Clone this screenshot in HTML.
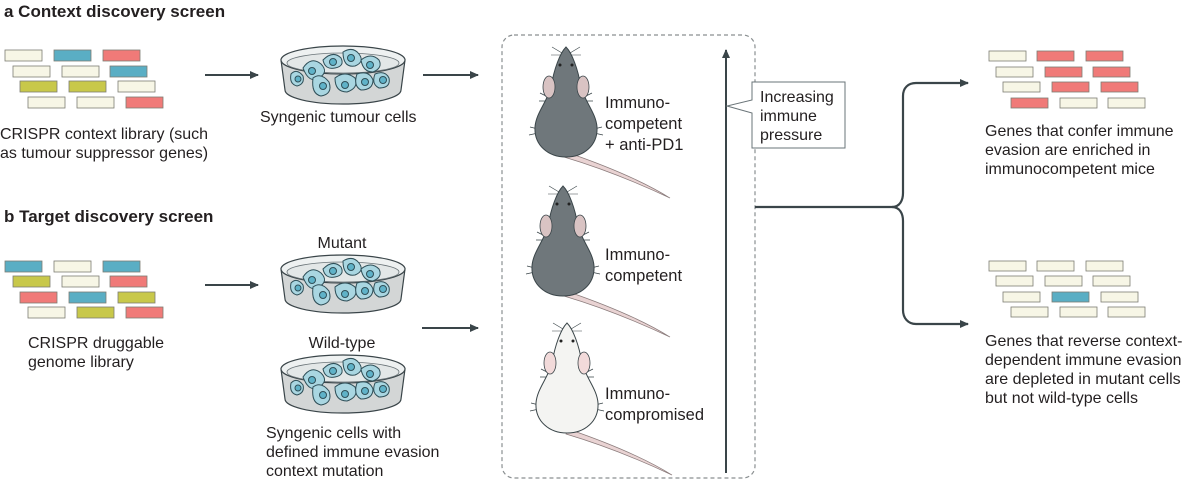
<!DOCTYPE html>
<html><head><meta charset="utf-8"><style>
html,body{margin:0;padding:0;background:#fff}
svg{display:block}
text{font-family:"Liberation Sans",sans-serif;fill:#231f20}
</style></head><body>
<svg width="1200" height="484" viewBox="0 0 1200 484" xmlns="http://www.w3.org/2000/svg">
<defs>
<marker id="ah" markerWidth="10" markerHeight="10" refX="8" refY="5" orient="auto" markerUnits="userSpaceOnUse">
<path d="M0,1 L9,5 L0,9 Z" fill="#3a4549"/></marker>
<g id="dish">
<path d="M-62,0 L-58,30 A58,14 0 0 0 58,30 L62,0 Z" fill="#d3d6d6" stroke="#3a4549" stroke-width="1.2"/>
<ellipse cx="0" cy="0" rx="62" ry="14" fill="#eef1f1" stroke="#3a4549" stroke-width="1.2"/>
<ellipse cx="0" cy="3" rx="56" ry="10" fill="#e3e7e7" stroke="#6a7478" stroke-width="0.8"/>
<g fill="#a9d6e1" stroke="#2f4f58" stroke-width="1">
<path d="M-40,8 q8,-12 18,-4 q8,8 -2,14 q-10,6 -16,-10z"/><circle cx="-31" cy="11" r="3.5" fill="#5fb2c8"/>
<path d="M-20,0 q10,-10 18,-2 q4,8 -6,10 q-10,2 -12,-8z"/><circle cx="-10" cy="2" r="3.5" fill="#5fb2c8"/>
<path d="M0,-8 q10,-6 16,2 q6,8 -4,12 q-12,2 -12,-14z"/><circle cx="8" cy="-2" r="3.5" fill="#5fb2c8"/>
<path d="M18,0 q10,-8 18,0 q4,8 -6,12 q-10,0 -12,-12z"/><circle cx="27" cy="5" r="3.5" fill="#5fb2c8"/>
<path d="M-30,18 q8,-6 16,4 q4,12 -8,14 q-10,-2 -8,-18z"/><circle cx="-20" cy="26" r="3.5" fill="#5fb2c8"/>
<path d="M-8,18 q10,-8 20,0 q4,10 -8,14 q-12,0 -12,-14z"/><circle cx="2" cy="25" r="3.5" fill="#5fb2c8"/>
<path d="M14,14 q12,-4 16,6 q0,10 -12,10 q-8,-4 -4,-16z"/><circle cx="22" cy="22" r="3.5" fill="#5fb2c8"/>
<path d="M32,14 q10,-4 14,4 q2,10 -10,10 q-8,-4 -4,-14z"/><circle cx="40" cy="20" r="3.5" fill="#5fb2c8"/>
<path d="M-52,14 q6,-6 12,2 q2,8 -6,10 q-8,-2 -6,-12z"/><circle cx="-45" cy="19" r="3" fill="#5fb2c8"/>
</g>
</g>
<g id="tail"><path d="M0,0 C35,12 75,28 104,46 C72,31 35,16 -2,5 Z" fill="#e9d3d3" stroke="#8a7b7b" stroke-width="0.7"/></g>
<g id="mouseShape">
<g stroke="#3a4549" stroke-width="0.8">
<path d="M-18,50 l-8,-4 M-18,54 l-9,0 M18,50 l8,-4 M18,54 l9,0" fill="none"/>
<path d="M-28,82 l-8,-2 M-28,86 l-9,2 M28,82 l8,-2 M28,86 l9,2" fill="none"/>
<path d="M-4,6 l-10,-6 M-4,8 l-11,0 M4,6 l10,-6 M4,8 l11,0" fill="none" stroke-width="0.6"/>
</g>
<path d="M0,0 C-6,6 -12,22 -15,40 C-19,55 -30,66 -31,80 C-32,98 -18,110 0,110 C18,110 32,98 31,80 C30,66 19,55 15,40 C12,22 6,6 0,0Z"/>
</g>
</defs>

<text x="4" y="17" font-size="17" font-weight="bold">a  Context discovery screen</text>
<text x="4" y="222" font-size="17" font-weight="bold">b  Target discovery screen</text>

<g stroke="#7d7d74" stroke-width="0.8">
<rect x="5" y="50" width="37" height="11" fill="#f7f6e6"/><rect x="54" y="50" width="37" height="11" fill="#5aaec4"/><rect x="103" y="50" width="37" height="11" fill="#f07a78"/>
<rect x="13" y="66" width="37" height="11" fill="#f7f6e6"/><rect x="62" y="66" width="37" height="11" fill="#f7f6e6"/><rect x="110" y="66" width="37" height="11" fill="#5aaec4"/>
<rect x="20" y="81" width="37" height="11" fill="#c8c84a"/><rect x="69" y="81" width="37" height="11" fill="#c8c84a"/><rect x="118" y="81" width="37" height="11" fill="#f7f6e6"/>
<rect x="28" y="97" width="37" height="11" fill="#f7f6e6"/><rect x="77" y="97" width="37" height="11" fill="#f7f6e6"/><rect x="126" y="97" width="37" height="11" fill="#f07a78"/>
</g>
<g stroke="#7d7d74" stroke-width="0.8">
<rect x="5" y="261" width="37" height="11" fill="#5aaec4"/><rect x="54" y="261" width="37" height="11" fill="#f7f6e6"/><rect x="103" y="261" width="37" height="11" fill="#5aaec4"/>
<rect x="13" y="276" width="37" height="11" fill="#c8c84a"/><rect x="62" y="276" width="37" height="11" fill="#f7f6e6"/><rect x="110" y="276" width="37" height="11" fill="#f07a78"/>
<rect x="20" y="292" width="37" height="11" fill="#f07a78"/><rect x="69" y="292" width="37" height="11" fill="#5aaec4"/><rect x="118" y="292" width="37" height="11" fill="#c8c84a"/>
<rect x="28" y="307" width="37" height="11" fill="#f7f6e6"/><rect x="77" y="307" width="37" height="11" fill="#c8c84a"/><rect x="126" y="307" width="37" height="11" fill="#f07a78"/>
</g>

<g font-size="16">
<text x="0" y="139">CRISPR context library (such</text>
<text x="0" y="158">as tumour suppressor genes)</text>
<text x="260" y="122">Syngenic tumour cells</text>
<text x="28" y="348">CRISPR druggable</text>
<text x="28" y="367">genome library</text>
<text x="342" y="248" text-anchor="middle">Mutant</text>
<text x="342" y="348" text-anchor="middle">Wild-type</text>
<text x="266" y="438">Syngenic cells with</text>
<text x="266" y="457">defined immune evasion</text>
<text x="266" y="476">context mutation</text>
</g>

<use href="#dish" x="343" y="60"/>
<use href="#dish" x="343" y="269"/>
<use href="#dish" x="343" y="369"/>

<g stroke="#3a4549" stroke-width="2" fill="none" marker-end="url(#ah)">
<line x1="205" y1="75" x2="258" y2="75"/>
<line x1="423" y1="75" x2="478" y2="75"/>
<line x1="205" y1="285" x2="258" y2="285"/>
<line x1="422" y1="328" x2="478" y2="328"/>
<line x1="726" y1="473" x2="726" y2="50"/>
</g>

<rect x="502" y="35" width="253" height="443" rx="12" fill="none" stroke="#8a8f91" stroke-width="1.2" stroke-dasharray="4,3"/>

<!-- mice -->
<use href="#tail" x="566" y="152"/>
<g transform="translate(566,47)" fill="#6f777b" stroke="#3a4549" stroke-width="1"><use href="#mouseShape"/></g>
<ellipse cx="549" cy="87" rx="6" ry="11" fill="#d9c3c3" stroke="#3a4549" stroke-width="0.8"/>
<ellipse cx="583" cy="87" rx="6" ry="11" fill="#d9c3c3" stroke="#3a4549" stroke-width="0.8"/>
<circle cx="560" cy="65" r="1.5" fill="#222"/><circle cx="572" cy="65" r="1.5" fill="#222"/>

<use href="#tail" x="566" y="291"/>
<g transform="translate(563,186)" fill="#6f777b" stroke="#3a4549" stroke-width="1"><use href="#mouseShape"/></g>
<ellipse cx="546" cy="226" rx="6" ry="11" fill="#d9c3c3" stroke="#3a4549" stroke-width="0.8"/>
<ellipse cx="580" cy="226" rx="6" ry="11" fill="#d9c3c3" stroke="#3a4549" stroke-width="0.8"/>
<circle cx="557" cy="204" r="1.5" fill="#222"/><circle cx="569" cy="204" r="1.5" fill="#222"/>

<use href="#tail" x="568" y="429"/>
<g transform="translate(567,323)" fill="#f4f4f2" stroke="#3a4549" stroke-width="1"><use href="#mouseShape"/></g>
<ellipse cx="550" cy="363" rx="6" ry="11" fill="#f2dada" stroke="#3a4549" stroke-width="0.8"/>
<ellipse cx="584" cy="363" rx="6" ry="11" fill="#f2dada" stroke="#3a4549" stroke-width="0.8"/>
<circle cx="561" cy="341" r="1.5" fill="#222"/><circle cx="573" cy="341" r="1.5" fill="#222"/>

<g font-size="16.5">
<text x="605" y="108">Immuno-</text>
<text x="605" y="129">competent</text>
<text x="605" y="150">+ anti-PD1</text>
<text x="605" y="260">Immuno-</text>
<text x="605" y="281">competent</text>
<text x="605" y="399">Immuno-</text>
<text x="605" y="420">compromised</text>
</g>

<path d="M752,82 L845,82 L845,148 L752,148 L752,113 L727,106 L752,100 Z" fill="#fff" stroke="#6a7478" stroke-width="1"/>
<g font-size="16">
<text x="760" y="102">Increasing</text>
<text x="760" y="121">immune</text>
<text x="760" y="140">pressure</text>
</g>

<g stroke="#3a4549" stroke-width="2.2" fill="none">
<path d="M755,207 L892,207 C900,207 903,200 903,193 L903,96 C903,88 908,83 916,83 L968,83" marker-end="url(#ah)"/>
<path d="M892,207 C900,207 903,214 903,221 L903,310 C903,318 908,324 916,324 L968,324" marker-end="url(#ah)"/>
</g>

<g stroke="#7d7d74" stroke-width="0.8">
<rect x="989" y="51" width="37" height="10" fill="#f7f6e6"/><rect x="1037" y="51" width="37" height="10" fill="#f07a78"/><rect x="1086" y="51" width="37" height="10" fill="#f07a78"/>
<rect x="996" y="67" width="37" height="10" fill="#f7f6e6"/><rect x="1045" y="67" width="37" height="10" fill="#f07a78"/><rect x="1093" y="67" width="37" height="10" fill="#f07a78"/>
<rect x="1003" y="82" width="37" height="10" fill="#f7f6e6"/><rect x="1052" y="82" width="37" height="10" fill="#f07a78"/><rect x="1101" y="82" width="37" height="10" fill="#f07a78"/>
<rect x="1011" y="98" width="37" height="10" fill="#f07a78"/><rect x="1060" y="98" width="37" height="10" fill="#f7f6e6"/><rect x="1108" y="98" width="37" height="10" fill="#f7f6e6"/>
<rect x="989" y="261" width="37" height="10" fill="#f7f6e6"/><rect x="1037" y="261" width="37" height="10" fill="#f7f6e6"/><rect x="1086" y="261" width="37" height="10" fill="#f7f6e6"/>
<rect x="996" y="276" width="37" height="10" fill="#f7f6e6"/><rect x="1045" y="276" width="37" height="10" fill="#f7f6e6"/><rect x="1093" y="276" width="37" height="10" fill="#f7f6e6"/>
<rect x="1003" y="292" width="37" height="10" fill="#f7f6e6"/><rect x="1052" y="292" width="37" height="10" fill="#5aaec4"/><rect x="1101" y="292" width="37" height="10" fill="#f7f6e6"/>
<rect x="1011" y="307" width="37" height="10" fill="#f7f6e6"/><rect x="1060" y="307" width="37" height="10" fill="#f7f6e6"/><rect x="1108" y="307" width="37" height="10" fill="#f7f6e6"/>
</g>
<g font-size="16">
<text x="985" y="136">Genes that confer immune</text>
<text x="985" y="155">evasion are enriched in</text>
<text x="985" y="174">immunocompetent mice</text>
<text x="985" y="346">Genes that reverse context-</text>
<text x="985" y="365">dependent immune evasion</text>
<text x="985" y="384">are depleted in mutant cells</text>
<text x="985" y="403">but not wild-type cells</text>
</g>
</svg>
</body></html>
